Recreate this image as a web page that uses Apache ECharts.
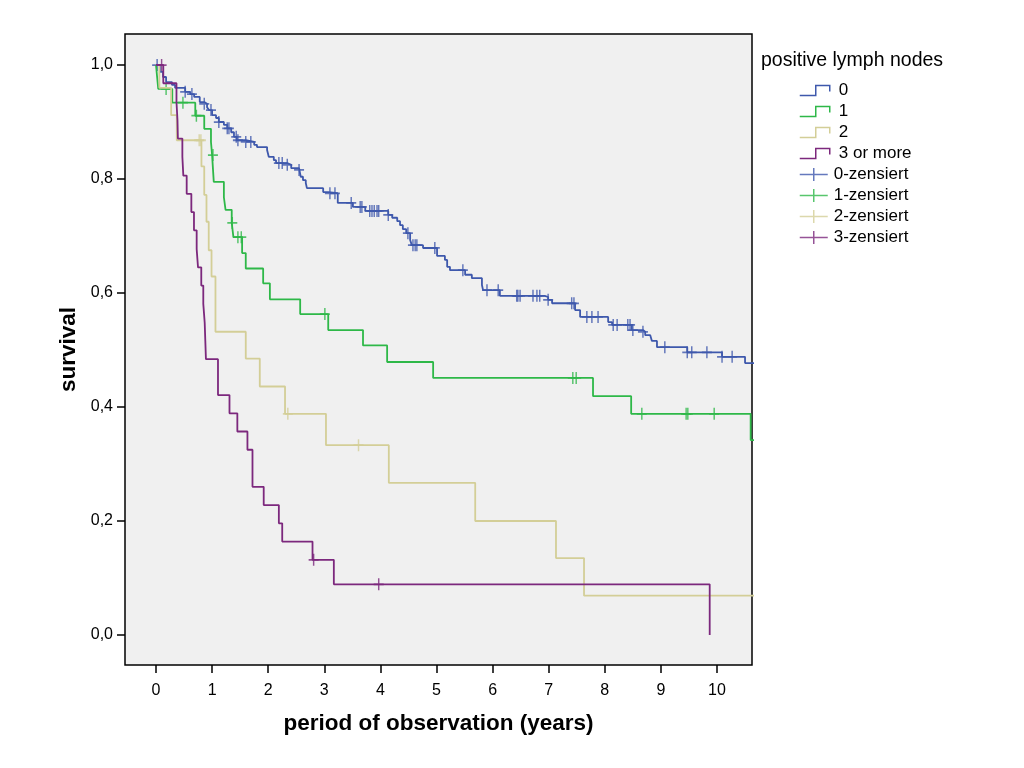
<!DOCTYPE html>
<html>
<head>
<meta charset="utf-8">
<title>survival by positive lymph nodes</title>
<script src="https://cdn.jsdelivr.net/npm/echarts@6/dist/echarts.min.js"></script>
<style>
  html, body { margin: 0; padding: 0; background: #fff; }
  #chart { width: 1024px; height: 768px; }
</style>
</head>
<body>
<div id="chart"></div>
<script>
// tick labels
const yearTicks = [0, 1, 2, 3, 4, 5, 6, 7, 8, 9, 10];
const survTicks = [0, 0.2, 0.4, 0.6, 0.8, 1.0];

// group names
const groupNames = ['0', '1', '2', '3 or more'];
const censorNames = ['0-zensiert', '1-zensiert', '2-zensiert', '3-zensiert'];

// 0 positive lymph nodes: event times (years) and survival after each event
const blueT = [0.07, 0.125, 0.18, 0.285, 0.34, 0.52, 0.61, 0.68, 0.78, 0.86, 0.91, 0.945, 1.00, 1.07, 1.12, 1.21, 1.27, 1.34, 1.39, 1.44,
  1.60, 1.75, 1.80, 1.98, 2.01, 2.10, 2.14, 2.34, 2.41, 2.55, 2.58, 2.62, 2.67, 2.69, 2.98, 3.07, 3.24, 3.51, 3.73, 4.14,
  4.21, 4.30, 4.35, 4.40, 4.46, 4.53, 4.56, 4.76, 5.01, 5.15, 5.19, 5.24, 5.51, 5.63, 5.81, 5.83, 6.13, 6.93, 6.99, 7.06,
  7.47, 7.56, 8.06, 8.13, 8.48, 8.68, 8.72, 8.81, 8.84, 8.93, 9.47, 10.09, 10.50];
const blueS = [0.988, 0.979, 0.970, 0.965, 0.960, 0.953, 0.949, 0.944, 0.935, 0.932, 0.926, 0.921, 0.912, 0.907, 0.900, 0.895, 0.889, 0.882, 0.874, 0.868,
  0.865, 0.860, 0.856, 0.851, 0.839, 0.833, 0.828, 0.825, 0.819, 0.816, 0.804, 0.798, 0.793, 0.784, 0.777, 0.775, 0.758, 0.751, 0.744, 0.737,
  0.732, 0.726, 0.719, 0.712, 0.705, 0.693, 0.684, 0.679, 0.665, 0.658, 0.646, 0.640, 0.632, 0.626, 0.614, 0.605, 0.595, 0.593, 0.588, 0.582,
  0.570, 0.558, 0.549, 0.544, 0.535, 0.532, 0.526, 0.523, 0.516, 0.505, 0.496, 0.488, 0.477];
const blueCensored = [0.02, 0.52, 0.64, 0.86, 0.98, 1.12, 1.27, 1.30, 1.43, 1.46, 1.60, 1.69, 2.19, 2.25, 2.34, 2.55, 3.10, 3.19, 3.48, 3.64,
  3.67, 3.81, 3.85, 3.89, 3.94, 3.97, 4.14, 4.49, 4.58, 4.62, 4.65, 4.97, 5.47, 5.90, 6.10, 6.43, 6.45, 6.49, 6.72, 6.79,
  6.84, 6.99, 7.41, 7.45, 7.68, 7.77, 7.88, 8.15, 8.22, 8.41, 8.45, 8.50, 8.68, 9.07, 9.47, 9.55, 9.82, 10.09, 10.27];

// 1 positive lymph node
const greenT = [0.02, 0.04, 0.29, 0.70, 0.86, 0.98, 1.00, 1.03, 1.21, 1.24, 1.35, 1.38, 1.535, 1.60, 1.91, 2.03, 2.57, 3.07, 3.69, 4.12,
  4.94, 7.79, 8.47, 10.60];
const greenS = [0.979, 0.958, 0.934, 0.911, 0.888, 0.865, 0.842, 0.795, 0.768, 0.746, 0.723, 0.698, 0.670, 0.643, 0.617, 0.589, 0.563, 0.535, 0.508, 0.479,
  0.451, 0.419, 0.388, 0.342];
const greenCensored = [0.18, 0.48, 0.72, 1.015, 1.36, 1.46, 1.52, 3.01, 7.43, 7.49, 8.66, 9.45, 9.48, 9.95];

// 2 positive lymph nodes
const beigeT = [0.06, 0.27, 0.37, 0.81, 0.86, 0.90, 0.94, 0.99, 1.06, 1.60, 1.85, 2.30, 3.03, 4.15, 5.69, 7.13, 7.63];
const beigeS = [0.960, 0.912, 0.868, 0.822, 0.772, 0.725, 0.675, 0.629, 0.532, 0.485, 0.436, 0.388, 0.333, 0.267, 0.200, 0.135, 0.069];
const beigeCensored = [0.77, 0.80, 2.35, 3.61];

// 3 or more positive lymph nodes
const purpleT = [0.13, 0.365, 0.383, 0.39, 0.47, 0.487, 0.547, 0.63, 0.677, 0.725, 0.749, 0.807, 0.843, 0.868, 0.879, 0.89, 1.105, 1.31, 1.45, 1.63,
  1.72, 1.92, 2.19, 2.25, 2.79, 3.17, 9.87];
const purpleS = [0.968, 0.935, 0.903, 0.871, 0.839, 0.806, 0.774, 0.742, 0.710, 0.677, 0.645, 0.613, 0.581, 0.548, 0.516, 0.484, 0.421, 0.389, 0.357, 0.325,
  0.260, 0.228, 0.196, 0.164, 0.132, 0.089, 0.0];
const purpleCensored = [0.10, 2.81, 3.97];

// last follow-up per group
const lastFollowUp = [10.9, 10.9, 10.9, 9.87];

const colors = ['#3E58AC', '#2EB848', '#D3CE97', '#7C287D'];
const font = '"Liberation Sans", Arial, sans-serif';

const groups = [
  [blueT, blueS, blueCensored],
  [greenT, greenS, greenCensored],
  [beigeT, beigeS, beigeCensored],
  [purpleT, purpleS, purpleCensored]
];

function stepLine(times, surv, end) {
  const pts = [[0, 1]];
  times.forEach((t, i) => pts.push([t, surv[i]]));
  if (end > times[times.length - 1]) pts.push([end, surv[surv.length - 1]]);
  return pts;
}

function survAt(times, surv, t) {
  let s = 1;
  for (let i = 0; i < times.length; i++) {
    if (times[i] <= t) s = surv[i];
  }
  return s;
}

const series = [];
groups.forEach((g, i) => {
  series.push({
    name: groupNames[i],
    type: 'line',
    step: 'end',
    showSymbol: false,
    silent: true,
    data: stepLine(g[0], g[1], lastFollowUp[i]),
    lineStyle: { color: colors[i], width: 1.8 },
    itemStyle: { color: colors[i] }
  });
});
groups.forEach((g, i) => {
  series.push({
    name: censorNames[i],
    type: 'scatter',
    silent: true,
    symbol: 'path://M0,6H10M5,0V12',
    symbolSize: [10, 12],
    data: g[2].map(t => [t, survAt(g[0], g[1], t)]),
    itemStyle: { color: 'transparent', borderColor: colors[i], borderWidth: 1.6 }
  });
});

const chart = echarts.init(document.getElementById('chart'));
chart.setOption({
  animation: false,
  backgroundColor: '#fff',
  title: {
    text: 'positive lymph nodes',
    left: 756,
    top: 46,
    textStyle: { fontSize: 19.5, fontWeight: 'normal', color: '#000', fontFamily: font }
  },
  legend: [
    {
      orient: 'vertical',
      left: 794,
      top: 77,
      itemWidth: 30,
      itemHeight: 10,
      itemGap: 4,
      textStyle: { fontSize: 17, lineHeight: 17, color: '#000', fontFamily: font, padding: [0, 0, 0, 4] },
      data: groupNames.map((n, i) => ({
        name: n,
        icon: 'path://M0,10H16V0H30V6',
        itemStyle: { color: 'transparent', borderColor: colors[i], borderWidth: 1.5 }
      }))
    },
    {
      orient: 'vertical',
      left: 794,
      top: 161,
      itemWidth: 28,
      itemHeight: 13,
      itemGap: 4,
      textStyle: { fontSize: 17, lineHeight: 17, color: '#000', fontFamily: font, padding: [0, 0, 0, 1] },
      data: censorNames.map((n, i) => ({
        name: n,
        icon: 'path://M0,6.5H28M14,0V13',
        itemStyle: { color: 'transparent', borderColor: colors[i], borderWidth: 1.5 }
      }))
    }
  ],
  grid: {
    left: 125,
    right: 272,
    top: 34,
    bottom: 103,
    show: true,
    backgroundColor: '#F0F0F0',
    borderColor: '#000',
    borderWidth: 1.5
  },
  xAxis: {
    type: 'value',
    min: -0.5526,
    max: 10.624,
    name: 'period of observation (years)',
    nameLocation: 'middle',
    nameGap: 47,
    nameTextStyle: { fontSize: 22.5, fontWeight: 'bold', color: '#000', fontFamily: font },
    axisLine: { show: false, onZero: false },
    splitLine: { show: false },
    axisTick: { show: true, length: 8, customValues: yearTicks, lineStyle: { color: '#000', width: 1.5 } },
    axisLabel: { customValues: yearTicks, margin: 18, fontSize: 16, color: '#000', fontFamily: font }
  },
  yAxis: {
    type: 'value',
    min: -0.0526,
    max: 1.0544,
    name: 'survival',
    nameLocation: 'middle',
    nameGap: 45,
    nameRotate: 90,
    nameTextStyle: { fontSize: 22.5, fontWeight: 'bold', color: '#000', fontFamily: font },
    axisLine: { show: false, onZero: false },
    splitLine: { show: false },
    axisTick: { show: true, length: 8, customValues: survTicks, lineStyle: { color: '#000', width: 1.5 } },
    axisLabel: {
      customValues: survTicks,
      margin: 12,
      fontSize: 16,
      color: '#000',
      fontFamily: font,
      formatter: v => v.toFixed(1).replace('.', ',')
    }
  },
  series: series
});
</script>
</body>
</html>
